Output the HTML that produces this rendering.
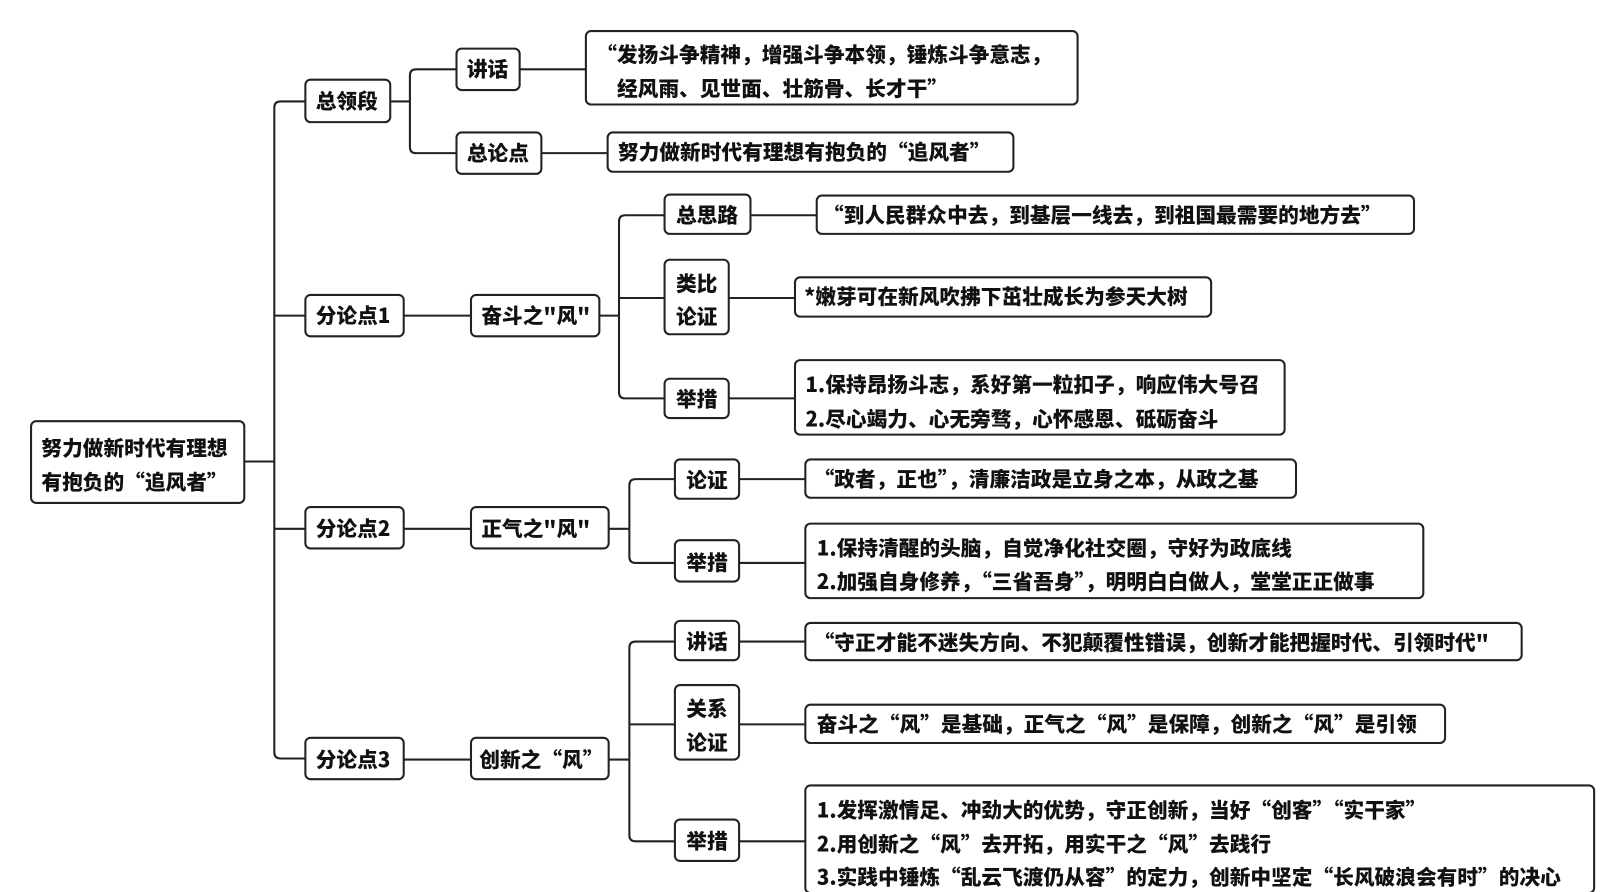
<!DOCTYPE html>
<html><head><meta charset="utf-8"><style>
html,body{margin:0;padding:0;background:#fff;width:1620px;height:892px;overflow:hidden}
svg{display:block}
text{font-family:"Noto Sans CJK SC","Liberation Sans",sans-serif;font-weight:900;font-size:20px;fill:#111}
rect{fill:#fff;stroke:#222;stroke-width:2}
path{fill:none;stroke:#222;stroke-width:2}
</style></head><body>
<svg width="1620" height="892" viewBox="0 0 1565 862" preserveAspectRatio="none">
<path d="M236 446 H265"/>
<path d="M295 98 H271 Q265 98 265 104 V727 Q265 733 271 733 H295"/>
<path d="M265 305 H295 M265 511 H295"/>
<path d="M377 98 H396 M441 67 H402 Q396 67 396 73 V142 Q396 148 402 148 H441"/>
<path d="M502 67 H566 M523 148 H587"/>
<path d="M390 305 H455 M579 305 H598 M642 208 H604 Q598 208 598 214 V379 Q598 385 604 385 H642 M598 288 H642"/>
<path d="M725 208 H789 M704 288 H768 M704 385 H768"/>
<path d="M390 511 H455 M588 511 H608 M652 463 H614 Q608 463 608 469 V538 Q608 544 614 544 H652"/>
<path d="M714 463 H778 M714 544 H778"/>
<path d="M390 734 H455 M588 734 H608 M652 620 H614 Q608 620 608 626 V807 Q608 813 614 813 H652 M608 700 H652"/>
<path d="M714 620 H778 M714 700 H778 M714 813 H778"/>

<rect x="30" y="407" width="206" height="79" rx="5"/>
<text x="40" y="440">努力做新时代有理想</text>
<text x="40" y="473">有抱负的“追风者”</text>

<rect x="295" y="77" width="82" height="41" rx="5"/><text x="305" y="105">总领段</text>
<rect x="295" y="285" width="95" height="40" rx="5"/><text x="305" y="312">分论点1</text>
<rect x="295" y="490" width="95" height="40" rx="5"/><text x="305" y="518">分论点2</text>
<rect x="295" y="713" width="95" height="40" rx="5"/><text x="305" y="741">分论点3</text>

<rect x="441" y="47" width="61" height="40" rx="5"/><text x="451" y="74">讲话</text>
<rect x="441" y="128" width="82" height="40" rx="5"/><text x="451" y="155">总论点</text>
<rect x="566" y="30" width="475" height="71" rx="5"/>
<text x="576" y="60">“发扬斗争精神，增强斗争本领，锤炼斗争意志，</text>
<text x="596" y="93">经风雨、见世面、壮筋骨、长才干”</text>
<rect x="587" y="128" width="392" height="38" rx="5"/><text x="597" y="154">努力做新时代有理想有抱负的“追风者”</text>

<rect x="455" y="285" width="124" height="40" rx="5"/><text x="465" y="312">奋斗之"风"</text>
<rect x="642" y="188" width="83" height="38" rx="5"/><text x="653" y="215">总思路</text>
<rect x="642" y="251" width="62" height="72" rx="5"/><text x="653" y="281">类比</text><text x="653" y="313">论证</text>
<rect x="642" y="366" width="62" height="38" rx="5"/><text x="653" y="393">举措</text>
<rect x="789" y="189" width="577" height="37" rx="5"/><text x="795" y="215">“到人民群众中去，到基层一线去，到祖国最需要的地方去”</text>
<rect x="768" y="268" width="402" height="38" rx="5"/><text x="777" y="294">*嫩芽可在新风吹拂下茁壮成长为参天大树</text>
<rect x="768" y="348" width="473" height="72" rx="5"/>
<text x="778" y="379">1.保持昂扬斗志，系好第一粒扣子，响应伟大号召</text>
<text x="778" y="412">2.尽心竭力、心无旁骛，心怀感恩、砥砺奋斗</text>

<rect x="455" y="490" width="133" height="40" rx="5"/><text x="465" y="518">正气之"风"</text>
<rect x="652" y="444" width="62" height="38" rx="5"/><text x="663" y="471">论证</text>
<rect x="652" y="522" width="62" height="40" rx="5"/><text x="663" y="551">举措</text>
<rect x="778" y="444" width="474" height="37" rx="5"/><text x="786" y="470">“政者，正也”，清廉洁政是立身之本，从政之基</text>
<rect x="778" y="506" width="597" height="72" rx="5"/>
<text x="789" y="537">1.保持清醒的头脑，自觉净化社交圈，守好为政底线</text>
<text x="789" y="569">2.加强自身修养，“三省吾身”，明明白白做人，堂堂正正做事</text>

<rect x="455" y="713" width="133" height="40" rx="5"/><text x="463" y="741">创新之“风”</text>
<rect x="652" y="600" width="62" height="38" rx="5"/><text x="663" y="627">讲话</text>
<rect x="652" y="662" width="62" height="72" rx="5"/><text x="663" y="692">关系</text><text x="663" y="725">论证</text>
<rect x="652" y="792" width="62" height="40" rx="5"/><text x="663" y="820">举措</text>
<rect x="778" y="602" width="692" height="36" rx="5"/><text x="786" y="628">“守正才能不迷失方向、不犯颠覆性错误，创新才能把握时代、引领时代"</text>
<rect x="778" y="681" width="618" height="37" rx="5"/><text x="789" y="707">奋斗之“风”是基础，正气之“风”是保障，创新之“风”是引领</text>
<rect x="778" y="759" width="762" height="104" rx="5"/>
<text x="789" y="790">1.发挥激情足、冲劲大的优势，守正创新，当好“创客”“实干家”</text>
<text x="789" y="823">2.用创新之“风”去开拓，用实干之“风”去践行</text>
<text x="789" y="855">3.实践中锤炼“乱云飞渡仍从容”的定力，创新中坚定“长风破浪会有时”的决心</text>
</svg>
</body></html>
